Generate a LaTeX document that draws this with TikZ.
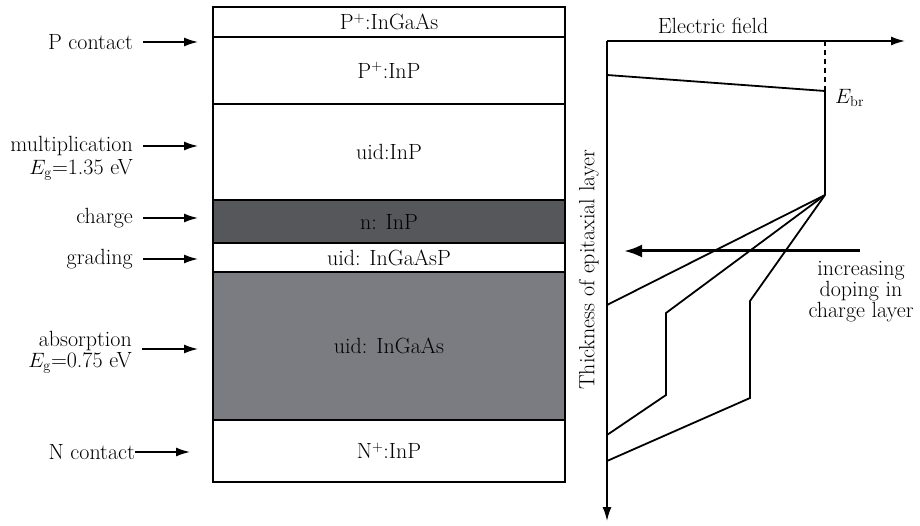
\documentclass[tikz,border=0pt]{standalone}
\usepackage{tikz}
\usetikzlibrary{positioning,calc,arrows.meta}
\definecolor{chargegray}{RGB}{86,87,90}
\definecolor{absgray}{RGB}{123,124,129}
\tikzset{
    txt/.style={font=\fontsize{22}{21}\selectfont, inner sep=0pt},
    layer/.style={txt, draw, line width=1.4pt, minimum width=352pt},
    lbl/.style={txt, align=right, anchor=east},
    pointer/.style={-{Latex[length=14pt,width=9pt]}, line width=1.5pt},
    field/.style={line width=1.8pt},
    axis/.style={-{Latex[length=14pt,width=9pt]}, line width=1.6pt},
}

\begin{document}
\begin{tikzpicture}[x=1pt, y=-1pt]
    \useasboundingbox (0,0) rectangle (920,526);
    % Layers
    \node [layer, minimum height=30pt] (cap) at (389,22) {P$^+$:InGaAs};
    \node [layer, minimum height=67pt] (pinp) at (389,70.5) {P$^+$:InP};
    \node [layer, minimum height=96pt] (mult) at (389,152) {uid:InP};
    \node [layer, minimum height=43pt, fill=chargegray] (charge) at (389,221.5) {n: InP};
    \node [layer, minimum height=29pt] (grade) at (389,257.5) {uid: InGaAsP};
    \node [layer, minimum height=148pt, fill=absgray] (absorb) at (389,346) {uid: InGaAs};
    \node [layer, minimum height=62pt] (ninp) at (389,451) {N$^+$:InP};
    % Labels
    \node [lbl] (lpc) at (133,42) {P contact};
    \node [lbl] (lmult) at (133,146) {multiplication};
    \node [lbl, below left=3pt and 0pt of lmult.south east] (lmulteg) {$E_{\mathrm{g}}$=1.35 eV};
    \node [lbl] (lcharge) at (133,218) {charge};
    \node [lbl] (lgrade) at (133,259) {grading};
    \node [lbl] (labs) at (132,352) {absorption\\$E_{\mathrm{g}}$=0.75 eV};
    \node [lbl] (lnc) at (135,452) {N contact};
    \coordinate (tpc) at (198,42);
    \coordinate (tmult) at (198,146);
    \coordinate (tcharge) at (198,218);
    \coordinate (tgrade) at (198,259);
    \coordinate (tabs) at (198,349);
    \coordinate (tnc) at (190,452);
    \draw [pointer, shorten <=10pt] (lpc) -- (tpc);
    \draw [pointer, shorten <=10pt] (lmult) -- (tmult);
    \draw [pointer, shorten <=10pt] (lcharge) -- (tcharge);
    \draw [pointer, shorten <=10pt] (lgrade) -- (tgrade);
    \draw [pointer, shorten <=10pt] (labs.east |- tabs) -- (tabs);
    \draw [pointer] (lnc) -- (tnc);
    % Axes
    \coordinate (o) at (607,41);
    \coordinate (xend) at (905,41);
    \coordinate (yend) at (607,521);
    \draw [axis] (o) -- (xend);
    \draw [axis] (o) -- (yend);
    \node [txt] (efield) at (713,26) {Electric field};
    \node [txt, rotate=90] (thick) at (589,270) {Thickness of epitaxial layer};
    % Field profiles
    \coordinate (ebr) at (825,91);
    \coordinate (knee) at (825,195);
    \draw [dash pattern=on 5pt off 4pt, line width=1.1pt] (ebr |- o) -- (ebr);
    \draw [field] (607,75) -- (ebr) -- (knee);
    \node [txt, anchor=west] (lebr) at (835,98) {$E_{\mathrm{br}}$};
    \draw [field] (knee) -- (607,305);
    \draw [field] (knee) -- (666,313) -- (666,395) -- (607,435);
    \draw [field] (knee) -- (750,301) -- (750,398) -- (607,461);
    % Doping arrow
    \node [txt, align=center] (doping) at (861,292) {increasing\\doping in\\charge layer};
    \coordinate (dstart) at (860,251);
    \coordinate (dend) at (624,251);
    \draw [-{Latex[length=18pt,width=13pt]}, line width=3pt] (dstart) -- (dend);
\end{tikzpicture}
\end{document}
